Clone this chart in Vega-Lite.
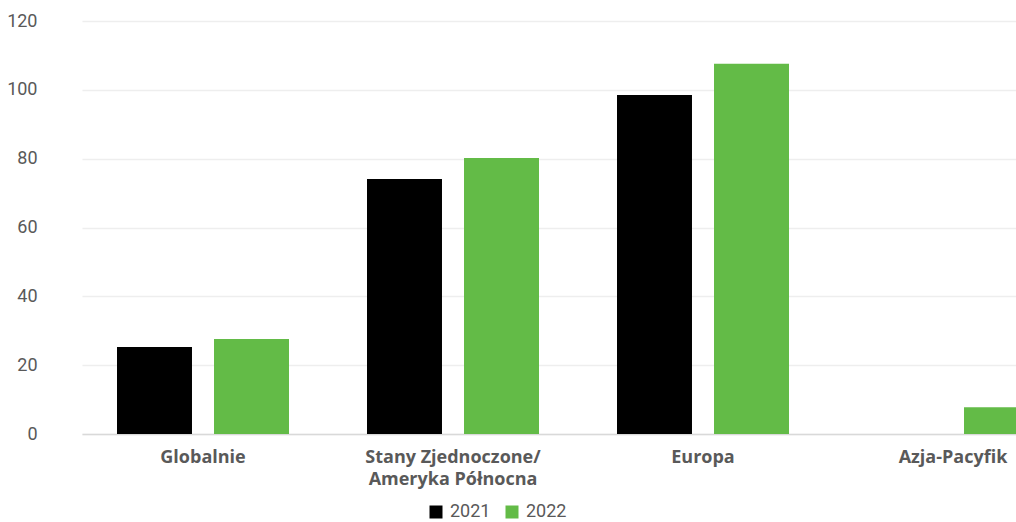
{
  "$schema": "https://vega.github.io/schema/vega-lite/v6.json",
  "width": 934,
  "height": 413,
  "autosize": {"type": "none"},
  "padding": {"left": 82, "top": 21, "right": 0, "bottom": 88},
  "background": "white",
  "config": {"view": {"stroke": null}},
  "data": {
    "values": [
      {"region": "Globalnie", "year": "2021", "value": 25.3},
      {"region": "Globalnie", "year": "2022", "value": 27.6},
      {"region": "Stany Zjednoczone/ Ameryka Północna", "year": "2021", "value": 74.1},
      {"region": "Stany Zjednoczone/ Ameryka Północna", "year": "2022", "value": 80.2},
      {"region": "Europa", "year": "2021", "value": 98.5},
      {"region": "Europa", "year": "2022", "value": 107.6},
      {"region": "Azja-Pacyfik", "year": "2022", "value": 7.8}
    ]
  },
  "mark": {"type": "bar"},
  "encoding": {
    "x": {
      "field": "region",
      "type": "nominal",
      "sort": ["Globalnie", "Stany Zjednoczone/ Ameryka Północna", "Europa", "Azja-Pacyfik"],
      "scale": {"range": [0, 992], "paddingInner": 0.312, "paddingOuter": 0.14},
      "axis": {
        "title": null,
        "labelAngle": 0,
        "labelFont": "Open Sans",
        "labelFontWeight": "bold",
        "labelFontSize": 18,
        "labelColor": "#595959",
        "labelLineHeight": 22,
        "labelPadding": 14,
        "labelLimit": 300,
        "labelOverlap": false,
        "labelExpr": "datum.value == 'Stany Zjednoczone/ Ameryka Północna' ? ['Stany Zjednoczone/', 'Ameryka Północna'] : datum.value",
        "ticks": false,
        "domainColor": "#d9d9d9",
        "domainWidth": 1.5,
        "grid": false
      }
    },
    "xOffset": {
      "field": "year",
      "type": "nominal",
      "scale": {"domain": ["2021", "2022"], "paddingInner": 0.227, "paddingOuter": 0}
    },
    "y": {
      "field": "value",
      "type": "quantitative",
      "scale": {"domain": [0, 120]},
      "axis": {
        "title": null,
        "values": [0, 20, 40, 60, 80, 100, 120],
        "domain": false,
        "ticks": false,
        "labelFont": "Roboto",
        "labelFontSize": 18,
        "labelColor": "#595959",
        "labelPadding": 45,
        "gridColor": "#eeeeee",
        "gridWidth": 1.5
      }
    },
    "color": {
      "field": "year",
      "type": "nominal",
      "scale": {"domain": ["2021", "2022"], "range": ["#000000", "#63bb47"]},
      "legend": {
        "title": null,
        "orient": "none",
        "direction": "horizontal",
        "legendX": 345,
        "legendY": 482,
        "padding": 0,
        "symbolType": "square",
        "symbolSize": 169,
        "symbolStrokeWidth": 0,
        "labelFont": "Roboto",
        "labelFontSize": 18,
        "labelColor": "#595959",
        "labelOffset": 5,
        "columnPadding": 12
      }
    }
  }
}
